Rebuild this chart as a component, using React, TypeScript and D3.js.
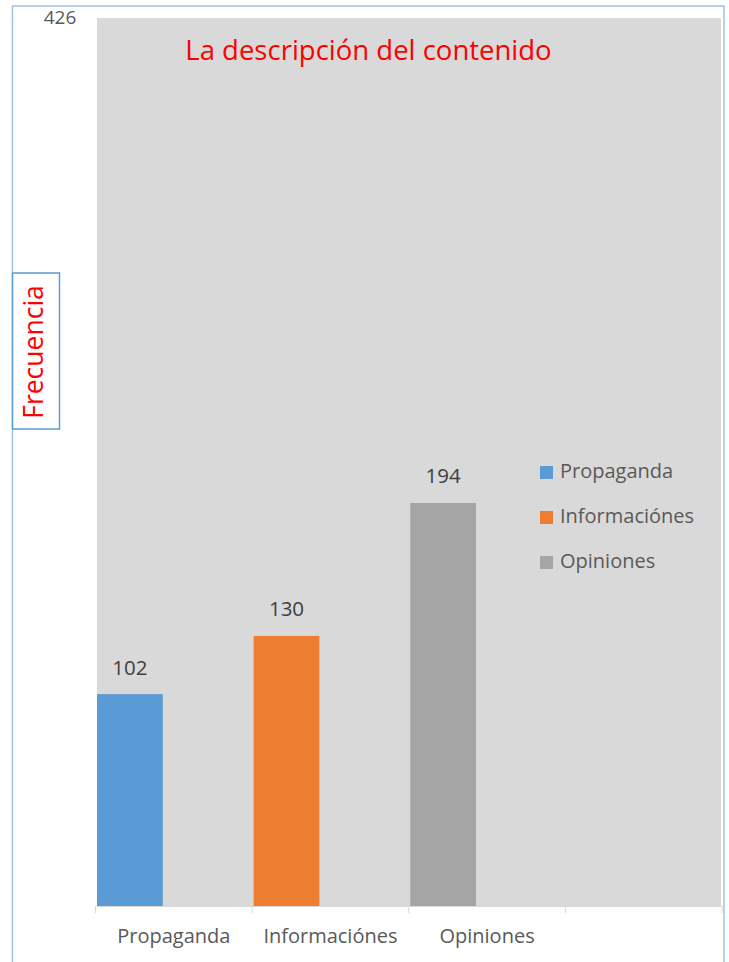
import React from "react";
import * as d3 from "d3";

const categories = ["Propaganda", "Informaciónes", "Opiniones", ""];
const values = [102, 130, 194];
const seriesNames = ["Propaganda", "Informaciónes", "Opiniones"];
const colors = ["#5b9bd5", "#ed7d31", "#a5a5a5"];
const yMax = 426;
const title = "La descripción del contenido";
const yTitle = "Frecuencia";

export default function App() {
  const W = 729, H = 962;
  const left = 95.5, right = 722, top = 21, bottom = 906;
  const x = d3.scaleBand<string>().domain(categories.map((c, i) => String(i))).range([left, right]).paddingInner(0).paddingOuter(0);
  const y = d3.scaleLinear().domain([0, yMax]).range([bottom, top]);
  const bw = x.bandwidth() * 0.42;
  const font = "'Open Sans', 'Noto Sans', sans-serif";
  const ticks = d3.range(categories.length + 1).map((i) => left + i * x.bandwidth());
  return (
    <svg width={W} height={H} style={{ position: "absolute", left: 0, top: 0, display: "block" }} fontFamily={font}>
      <rect x={0} y={0} width={W} height={H} fill="#fff" />
      <rect x={12.5} y={6} width={711.5} height={H + 10} fill="none" stroke="#9dc3e6" strokeWidth={1.5} />
      <rect x={97} y={18} width={right - 97 - 1} height={bottom - 18} fill="#d9d9d9" />
      {values.map((v, i) => (
        <g key={i}>
          <rect x={(x(String(i)) as number) + 1.5} y={y(v)} width={bw} height={bottom - y(v)} fill={colors[i]} />
          <text x={(x(String(i)) as number) + 1.5 + bw / 2} y={y(v) - 25} textAnchor="middle" dominantBaseline="middle" fontSize={20.5} fill="#404040">{v}</text>
        </g>
      ))}
      <line x1={left} x2={right} y1={bottom + 0.5} y2={bottom + 0.5} stroke="#d9d9d9" strokeWidth={1} />
      {ticks.map((t, i) => (
        <line key={i} x1={t} x2={t} y1={bottom} y2={913} stroke="#d9d9d9" strokeWidth={1} />
      ))}
      {categories.map((c, i) => (
        <text key={i} x={(x(String(i)) as number) + x.bandwidth() / 2} y={938} textAnchor="middle" dominantBaseline="middle" fontSize={20} fill="#595959">{c}</text>
      ))}
      <text x={60} y={19} textAnchor="middle" dominantBaseline="middle" fontSize={19} fill="#595959">{yMax}</text>
      <text x={368.5} y={53} textAnchor="middle" dominantBaseline="middle" fontSize={27.5} fill="#ff0000">{title}</text>
      <rect x={12.5} y={273} width={47} height={156} fill="#fff" stroke="#5b9bd5" strokeWidth={1.5} />
      <text transform="translate(36,352) rotate(-90)" textAnchor="middle" dominantBaseline="middle" fontSize={26.5} fill="#ff0000">{yTitle}</text>
      {seriesNames.map((s, i) => (
        <g key={i}>
          <rect x={540} y={466 + i * 45} width={13} height={13} fill={colors[i]} />
          <text x={560} y={473 + i * 45} dominantBaseline="middle" fontSize={20} fill="#595959">{s}</text>
        </g>
      ))}
    </svg>
  );
}
